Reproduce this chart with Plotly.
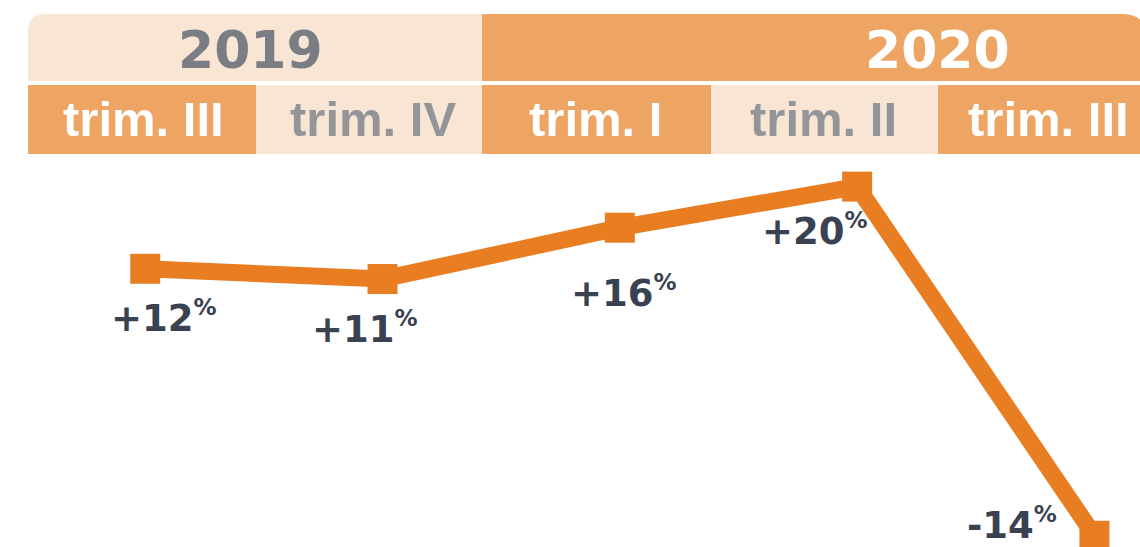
import plotly.graph_objects as go

# ---- data ----
years = ["2019", "2020"]
quarters = ["trim. III", "trim. IV", "trim. I", "trim. II", "trim. III"]
values = [12, 11, 16, 20, -14]
value_labels = ["+12", "+11", "+16", "+20", "-14"]

W, H = 1140, 547
LINE = "#E87D22"
DARK = "#EEA462"
LIGHT = "#F9E5D4"
LABEL = "#3A4252"


def px(x):
    return x / W


def py(y):
    return 1 - y / H


fig = go.Figure()
idx = list(range(len(values)))
fig.add_trace(go.Scatter(
    x=idx, y=values, mode="lines+markers",
    line=dict(color=LINE, width=17),
    marker=dict(symbol="square", size=30, color=LINE),
    hoverinfo="skip", cliponaxis=True,
))

shapes = []
# year band 2019 (rounded top-left)
r = 18
x0, x1, y0, y1 = 28, 482, 14, 81
path = (f"M {px(x0)},{py(y1)} L {px(x0)},{py(y0 + r)} "
        f"Q {px(x0)},{py(y0)} {px(x0 + r)},{py(y0)} "
        f"L {px(x1)},{py(y0)} L {px(x1)},{py(y1)} Z")
shapes.append(dict(type="path", path=path, xref="paper", yref="paper",
                   fillcolor=LIGHT, line=dict(width=0), layer="below"))
# year band 2020 (rounded top-right)
r2 = 25
x0, x1 = 482, 1147
path = (f"M {px(x0)},{py(y1)} L {px(x0)},{py(y0)} "
        f"L {px(x1 - r2)},{py(y0)} Q {px(x1)},{py(y0)} {px(x1)},{py(y0 + r2)} "
        f"L {px(x1)},{py(y1)} Z")
shapes.append(dict(type="path", path=path, xref="paper", yref="paper",
                   fillcolor=DARK, line=dict(width=0), layer="below"))

# quarter cells
bounds = [28, 256, 482, 711, 938, 1165]
for i in range(len(quarters)):
    shapes.append(dict(type="rect", xref="paper", yref="paper",
                       x0=px(bounds[i]), x1=px(bounds[i + 1]),
                       y0=py(154), y1=py(85),
                       fillcolor=DARK if i % 2 == 0 else LIGHT,
                       line=dict(width=0), layer="below"))

annotations = []
# year labels
year_x = [250, 937]
year_col = ["#7A7E84", "#FFFFFF"]
for i, yr in enumerate(years):
    annotations.append(dict(text=yr, xref="paper", yref="paper",
                            x=px(year_x[i]), y=py(50), xanchor="center", yanchor="middle",
                            showarrow=False,
                            font=dict(family="DejaVu Sans", size=52, color=year_col[i],
                                      weight="bold")))
# quarter labels
q_x = [143, 373, 595, 823, 1048]
for i, q in enumerate(quarters):
    annotations.append(dict(text=q, xref="paper", yref="paper",
                            x=px(q_x[i]), y=py(119), xanchor="center", yanchor="middle",
                            showarrow=False,
                            font=dict(family="Liberation Sans, Arial", size=49,
                                      color="#FFFFFF" if i % 2 == 0 else "#939599",
                                      weight="bold")))
# value labels
shifts = [(19, -48), (-18, -49), (4, -64), (-42, -43), (-82, 12)]
for i, (v, lab) in enumerate(zip(values, value_labels)):
    dx, dy = shifts[i]
    annotations.append(dict(text=f"{lab}<sup><span style='font-size:23px'>%</span></sup>",
                            x=idx[i], y=v, xref="x", yref="y",
                            xshift=dx, yshift=dy, xanchor="center", yanchor="middle",
                            showarrow=False,
                            font=dict(family="DejaVu Sans", size=37, color=LABEL,
                                      weight="bold")))

fig.update_layout(
    width=W, height=H,
    margin=dict(l=0, r=0, t=0, b=0),
    paper_bgcolor="white", plot_bgcolor="white",
    showlegend=False,
    xaxis=dict(range=[-0.612, 4.192], visible=False, fixedrange=True),
    yaxis=dict(range=[-15.09, 38.17], visible=False, fixedrange=True),
    shapes=shapes, annotations=annotations,
)

fig.write_html("out.html", config={"displayModeBar": False},
               post_script="document.body.style.margin='0';document.body.style.overflow='hidden';")
